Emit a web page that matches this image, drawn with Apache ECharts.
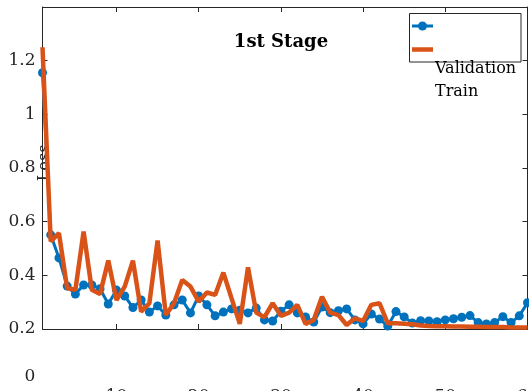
<!DOCTYPE html>
<html><head><meta charset="utf-8">
<script src="https://cdn.jsdelivr.net/npm/echarts@6/dist/echarts.min.js"></script>
<style>html,body{margin:0;padding:0;background:#fff}#c{width:529px;height:391px}</style>
</head><body><div id="c"></div>
<script>
const epochs = [];
for (let i = 1; i <= 60; i++) epochs.push(i);
const validation = [1.155,0.551,0.465,0.36,0.33,0.364,0.364,0.35,0.293,0.345,0.323,0.28,0.308,0.263,0.286,0.252,0.29,0.308,0.26,0.323,0.29,0.249,0.263,0.275,0.27,0.26,0.278,0.234,0.23,0.266,0.29,0.26,0.245,0.226,0.282,0.261,0.268,0.275,0.234,0.219,0.256,0.237,0.211,0.265,0.245,0.222,0.231,0.23,0.227,0.234,0.238,0.244,0.25,0.224,0.219,0.224,0.246,0.224,0.249,0.298];
const train = [1.25,0.526,0.557,0.352,0.346,0.563,0.346,0.33,0.455,0.308,0.358,0.455,0.265,0.296,0.53,0.252,0.296,0.383,0.358,0.302,0.336,0.327,0.41,0.314,0.219,0.43,0.261,0.244,0.296,0.249,0.261,0.29,0.219,0.234,0.32,0.261,0.252,0.215,0.24,0.23,0.29,0.296,0.221,0.221,0.22,0.218,0.213,0.211,0.21,0.21,0.209,0.209,0.208,0.208,0.207,0.207,0.207,0.206,0.206,0.206];
const xTicks = [10,20,30,40,50,60];
const seriesNames = ['Validation','Train'];
const titleText = '1st Stage';
const yName = 'Loss';
const strayLabel = '0';

const FONT = 'DejaVu Serif';
const AX = '#262626';
const chart = echarts.init(document.getElementById('c'), null, {renderer:'canvas'});
const baseAxis = {
  axisLine:{show:true,lineStyle:{color:AX,width:1}},
  axisTick:{show:true,inside:true,length:5,lineStyle:{color:AX}},
  splitLine:{show:false}
};
chart.setOption({
  animation:false,
  backgroundColor:'#fff',
  grid:{left:42.5,top:7,width:485,height:322,containLabel:false,outerBoundsMode:'none'},
  xAxis:[
    Object.assign({},baseAxis,{type:'value',min:1,max:60,position:'bottom',
      axisTick:{show:true,inside:true,length:5,lineStyle:{color:AX},customValues:xTicks},
      axisLabel:{show:true,customValues:xTicks,margin:59,fontFamily:FONT,fontSize:17,color:AX}}),
    Object.assign({},baseAxis,{type:'value',min:1,max:60,position:'top',
      axisTick:{show:true,inside:true,length:5,lineStyle:{color:AX},customValues:xTicks},
      axisLabel:{show:false}})
  ],
  yAxis:[
    Object.assign({},baseAxis,{type:'value',min:0.2,max:1.4,interval:0.2,position:'left',
      axisLabel:{margin:7,fontFamily:FONT,fontSize:17,color:AX,
        formatter:v=> v>1.3 ? '' : String(+v.toFixed(1))}}),
    Object.assign({},baseAxis,{type:'value',min:0.2,max:1.4,interval:0.2,position:'right',
      axisLabel:{show:false}})
  ],
  graphic:[
    {type:'text',z:6,x:281,y:42,
      style:{text:titleText,fontFamily:FONT,fontSize:18,fontWeight:'bold',fill:'#000',align:'center',verticalAlign:'middle'}},
    {type:'text',z:0,x:45,y:163,rotation:Math.PI/2,
      style:{text:yName,fontFamily:FONT,fontSize:16,fill:AX,align:'center',verticalAlign:'middle'}},
    {type:'text',z:0,x:30,y:377,
      style:{text:strayLabel,fontFamily:FONT,fontSize:17,fill:AX,align:'center',verticalAlign:'middle'}},
    {type:'rect',z:5,shape:{x:409.5,y:13.5,width:111.5,height:48.5},
      style:{fill:'#fff',stroke:AX,lineWidth:1}},
    {type:'line',z:6,shape:{x1:412,y1:26,x2:433,y2:26},style:{stroke:'#0072BD',lineWidth:3}},
    {type:'circle',z:6,shape:{cx:422.5,cy:26,r:4.5},style:{fill:'#0072BD'}},
    {type:'line',z:6,shape:{x1:412,y1:49.5,x2:433,y2:49.5},style:{stroke:'#D95319',lineWidth:4.5}},
    {type:'text',z:6,x:435,y:69,
      style:{text:seriesNames[0],fontFamily:FONT,fontSize:16,fill:'#000',align:'left',verticalAlign:'middle'}},
    {type:'text',z:6,x:435,y:92,
      style:{text:seriesNames[1],fontFamily:FONT,fontSize:16,fill:'#000',align:'left',verticalAlign:'middle'}}
  ],
  series:[
    {name:seriesNames[0],type:'line',data:epochs.map((e,i)=>[e,validation[i]]),
      symbol:'circle',symbolSize:9,showSymbol:true,lineStyle:{color:'#0072BD',width:3},
      itemStyle:{color:'#0072BD'},z:2},
    {name:seriesNames[1],type:'line',data:epochs.map((e,i)=>[e,train[i]]),
      symbol:'none',lineStyle:{color:'#D95319',width:4.5},z:3}
  ]
});
</script></body></html>
